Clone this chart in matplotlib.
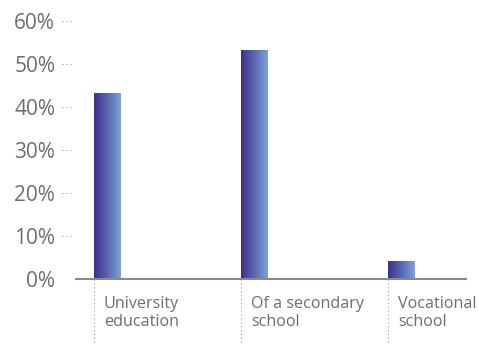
import numpy as np
import matplotlib
matplotlib.use("Agg")
import matplotlib.pyplot as plt
import matplotlib.transforms as mtransforms
from matplotlib.colors import LinearSegmentedColormap

categories = ["University\neducation", "Of a secondary\nschool", "Vocational\nschool"]
values = [43.3, 53.3, 4.3]
yticks = [0, 10, 20, 30, 40, 50, 60]

TEXT = "#6d6e71"
GREY = "#8a8a8a"

plt.rcParams["font.family"] = ["Open Sans", "DejaVu Sans"]

fig = plt.figure(figsize=(4.79, 3.44), dpi=100)
ax = fig.add_axes([76 / 479, 65 / 344, 390 / 479, 258 / 344])

x = np.arange(len(categories))
bars = ax.bar(x, values, width=0.177, align="edge", color="none")

cmap = LinearSegmentedColormap.from_list("g", ["#3d2f8f", "#5a66b0", "#7ea3da"])
grad = np.linspace(0, 1, 256).reshape(1, -1)
for b in bars:
    x0, y0 = b.get_x(), b.get_y()
    im = ax.imshow(grad, cmap=cmap, aspect="auto",
                   extent=(x0, x0 + b.get_width(), y0, y0 + b.get_height()),
                   zorder=2)
    im.set_clip_path(b)

ax.set_xlim(-0.122, 2.53)
ax.set_ylim(0, 60)

for s in ["top", "right", "left"]:
    ax.spines[s].set_visible(False)
ax.spines["bottom"].set_color(GREY)
ax.spines["bottom"].set_linewidth(1.5)
ax.spines["bottom"].set_zorder(3)

ax.set_xticks([])
ax.set_yticks(yticks)
ax.set_yticklabels([f"{t}%" for t in yticks])
ax.tick_params(axis="y", length=0, pad=15, labelsize=15, labelcolor=TEXT)

# short dotted tick marks left of the plot
ytr = mtransforms.blended_transform_factory(ax.transAxes, ax.transData)
for t in yticks[1:]:
    ax.plot([-0.036, -0.008], [t, t], transform=ytr, color="#999999",
            lw=0.8, ls=(0, (1, 2.5)), clip_on=False)

# dotted separators and category labels below the axis
xtr = mtransforms.blended_transform_factory(ax.transData, ax.transAxes)
for xi, lab in zip(x, categories):
    ax.plot([xi, xi], [0, -0.26], transform=xtr, color="#999999",
            lw=0.8, ls=(0, (1, 2.5)), clip_on=False)
    off = mtransforms.offset_copy(xtr, fig=fig, x=10, y=-17, units="dots")
    ax.text(xi, 0, lab, transform=off, ha="left", va="top", fontsize=11.6,
            color=TEXT, linespacing=1.15)

fig.savefig("out.png", dpi=100)
